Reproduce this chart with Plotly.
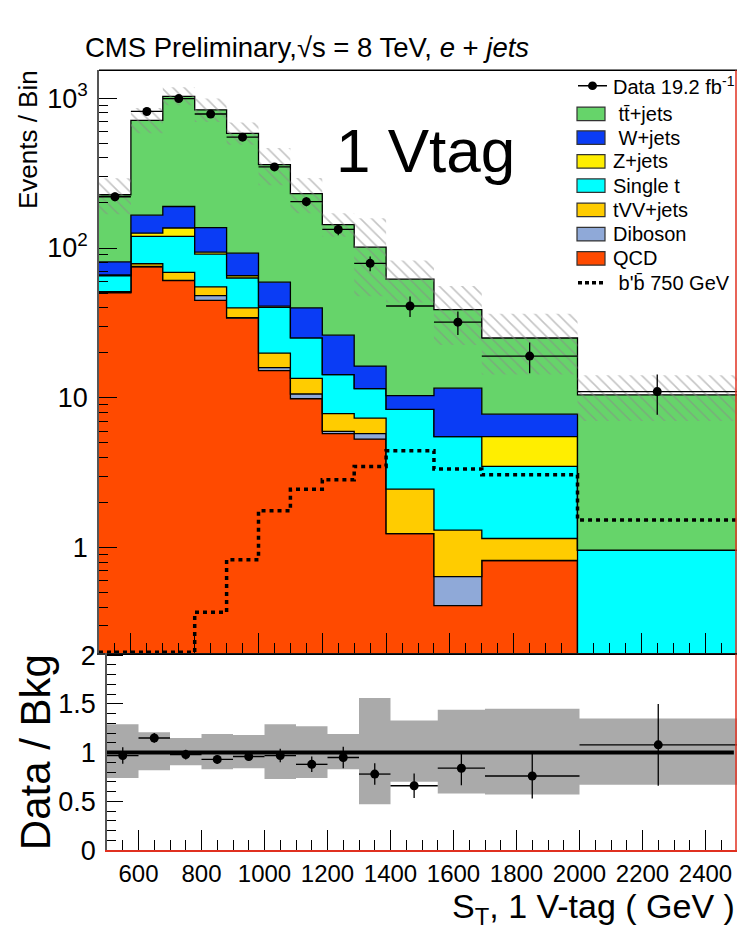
import numpy as np
import plotly.graph_objects as go

W, H = 739, 933
FONT = "Liberation Sans, Arial, Helvetica, sans-serif"

# S_T binning (GeV)
edges = [500, 600, 700, 800, 900, 1000, 1100, 1200, 1300, 1400, 1550, 1700, 2000, 2500]

# background expectations, events per bin (stack order: bottom -> top)
qcd      = [50.3, 75.0, 60.6, 44.7, 34.0, 15.2, 9.86, 5.77, 5.30, 1.24, 0.41, 0.82, 0.0]
diboson  = [0.3, 0.3, 0.3, 3.4, 0.3, 0.7, 0.74, 0.20, 0.47, 0.0, 0.23, 0.0, 0.0]
tvv      = [0.5, 3.2, 7.8, 6.9, 5.5, 4.0, 2.9, 1.88, 1.55, 1.22, 0.67, 0.33, 0.0]
single_t = [14.2, 41.0, 50.8, 36.0, 23.3, 20.3, 11.6, 6.45, 4.18, 5.91, 4.19, 2.33, 0.96]
zjets    = [0.8, 6.1, 16.5, 2.8, 2.2, 0.7, 0.0, 0.0, 0.0, 0.0, 0.0, 2.02, 0.0]
wjets    = [14.8, 40.0, 53.3, 43.2, 27.1, 18.3, 14.7, 11.9, 4.8, 1.98, 6.1, 2.27, 0.0]
ttbar    = [146, 545, 841, 700, 491, 301, 191, 117, 85, 51.6, 27.2, 17.3, 9.5]

# signal: b'b' with m = 750 GeV (first bins sit at the plot floor)
bprime = [0.2, 0.2, 0.2, 0.37, 0.83, 1.76, 2.45, 2.84, 3.48, 4.44, 3.35, 3.06, 1.53]

# observed data
data     = [220, 816, 995, 785, 550, 348, 204, 133, 79, 41, 32, 19, 11]
data_err = [14.8, 28.6, 31.5, 28.0, 23.5, 18.7, 14.3, 11.5, 8.9, 6.4, 5.7, 4.4, 3.3]

# relative background uncertainty band (lower / upper edge)
band_lo = [0.74, 0.82, 0.87, 0.83, 0.84, 0.73, 0.74, 0.83, 0.47, 0.70, 0.58, 0.57, 0.67]
band_hi = [1.29, 1.21, 1.15, 1.19, 1.18, 1.29, 1.27, 1.19, 1.56, 1.33, 1.44, 1.45, 1.35]

# data / background ratio
ratio     = [0.97, 1.15, 0.98, 0.93, 0.96, 0.97, 0.88, 0.95, 0.78, 0.66, 0.84, 0.76, 1.08]
ratio_err = [0.085, 0.05, 0.05, 0.045, 0.04, 0.07, 0.08, 0.11, 0.11, 0.125, 0.175, 0.23, 0.42]

samples = [
    ("QCD", qcd, "#FF4A00"),
    ("Diboson", diboson, "#8FA9D8"),
    ("tVV+jets", tvv, "#FFCC00"),
    ("Single t", single_t, "#00FFFF"),
    ("Z+jets", zjets, "#FFEE00"),
    ("W+jets", wjets, "#0A3CF5"),
    ("t\u0074\u0304+jets", ttbar, "#66D46A"),
]

edges_a = np.array(edges, dtype=float)
centers = (edges_a[:-1] + edges_a[1:]) / 2
half_w = (edges_a[1:] - edges_a[:-1]) / 2
FLOOR = 1e-3


def step(v):
    v = np.asarray(v, dtype=float)
    return np.append(v, v[-1])


def px(x):
    return x / W


def py(y):
    return 1 - y / H


fig = go.Figure()

# ---- stacked backgrounds (main pad) ----
fig.add_trace(go.Scatter(x=edges, y=step(np.full(len(qcd), FLOOR)), mode="lines",
                         line=dict(width=0, shape="hv"), hoverinfo="skip",
                         showlegend=False, xaxis="x", yaxis="y"))
cum = np.zeros(len(qcd))
for name, vals, col in samples:
    cum = cum + np.array(vals, dtype=float)
    fig.add_trace(go.Scatter(x=edges, y=step(np.maximum(cum, FLOOR)), mode="lines", name=name,
                             line=dict(color="black", width=1.3, shape="hv"),
                             fill="tonexty", fillcolor=col, showlegend=False,
                             xaxis="x", yaxis="y"))
total = cum

# ---- uncertainty hatching ----
fig.add_trace(go.Scatter(x=edges, y=step(total * np.array(band_lo)), mode="lines",
                         line=dict(width=0, shape="hv", color="rgba(0,0,0,0)"),
                         showlegend=False, hoverinfo="skip", xaxis="x", yaxis="y"))
fig.add_trace(go.Scatter(x=edges, y=step(total * np.array(band_hi)), mode="lines",
                         line=dict(width=0, shape="hv", color="rgba(0,0,0,0)"),
                         fill="tonexty", fillcolor="rgba(0,0,0,0)",
                         fillpattern=dict(shape="\\", fgcolor="#8a8a8a", bgcolor="rgba(0,0,0,0)",
                                          size=8, solidity=0.2),
                         showlegend=False, hoverinfo="skip", xaxis="x", yaxis="y"))

# ---- signal ----
fig.add_trace(go.Scatter(x=edges, y=step(bprime), mode="lines",
                         line=dict(color="black", width=3.5, shape="hv", dash="4px,4px"),
                         showlegend=False, xaxis="x", yaxis="y"))

# ---- data ----
fig.add_trace(go.Scatter(x=centers, y=data, mode="markers",
                         marker=dict(color="black", size=9),
                         error_x=dict(type="data", array=half_w, color="black", thickness=1.3, width=0),
                         error_y=dict(type="data", array=data_err, color="black", thickness=1.3, width=0),
                         showlegend=False, xaxis="x", yaxis="y"))

# ---- ratio pad ----
fig.add_trace(go.Scatter(x=edges, y=step(band_lo), mode="lines",
                         line=dict(width=0, shape="hv", color="rgba(0,0,0,0)"),
                         showlegend=False, hoverinfo="skip", xaxis="x2", yaxis="y2"))
fig.add_trace(go.Scatter(x=edges, y=step(band_hi), mode="lines",
                         line=dict(width=0, shape="hv", color="rgba(0,0,0,0)"),
                         fill="tonexty", fillcolor="#aaaaaa",
                         showlegend=False, hoverinfo="skip", xaxis="x2", yaxis="y2"))
fig.add_trace(go.Scatter(x=[500, 2490], y=[1, 1], mode="lines",
                         line=dict(color="black", width=4),
                         showlegend=False, xaxis="x2", yaxis="y2"))
fig.add_trace(go.Scatter(x=centers, y=ratio, mode="markers",
                         marker=dict(color="black", size=9),
                         error_x=dict(type="data", array=half_w, color="black", thickness=1.3, width=0),
                         error_y=dict(type="data", array=ratio_err, color="black", thickness=1.3, width=0),
                         showlegend=False, xaxis="x2", yaxis="y2"))

# ---- axes ----
minor_log = [v * 10 ** e for e in (-1, 0, 1, 2, 3) for v in range(2, 10)]
fig.update_layout(
    width=W, height=H, margin=dict(l=0, r=0, t=0, b=0),
    paper_bgcolor="white", plot_bgcolor="white",
    font=dict(family=FONT, color="black"),
    showlegend=False,
    xaxis=dict(domain=[px(99), px(737)], anchor="y", range=[500, 2500],
               showticklabels=False, ticks="inside", ticklen=20, tickwidth=1.2, tickcolor="black",
               tick0=0, dtick=200,
               minor=dict(ticks="inside", ticklen=10, tickwidth=1.2, tickcolor="black", tick0=0, dtick=50),
               showgrid=False, zeroline=False, showline=True, linecolor="#333333", linewidth=1.5),
    yaxis=dict(domain=[py(660), py(59)], anchor="x", type="log", range=[-0.705, 3.187],
               tickvals=[1, 10, 100, 1000], ticktext=["1", "10", "10<sup>2</sup>", "10<sup>3</sup>"],
               ticks="inside", ticklen=18, tickwidth=1.2, tickcolor="black",
               minor=dict(tickvals=minor_log, ticks="inside", ticklen=9, tickwidth=1.2, tickcolor="black"),
               tickfont=dict(size=27), ticklabelstandoff=4,
               showgrid=False, zeroline=False, showline=True, linecolor="#555555", linewidth=1.5),
    xaxis2=dict(domain=[px(107), px(737)], anchor="y2", range=[500, 2500],
                ticks="inside", ticklen=20, tickwidth=1.2, tickcolor="black",
                tick0=0, dtick=200, tickfont=dict(size=24), ticklabelstandoff=1,
                minor=dict(ticks="inside", ticklen=10, tickwidth=1.2, tickcolor="black", tick0=0, dtick=50),
                showgrid=False, zeroline=False, showline=True, linecolor="#e03020", linewidth=1.5),
    yaxis2=dict(domain=[py(863), py(660)], anchor="x2", range=[0, 2.02],
                tick0=0, dtick=0.5, ticks="inside", ticklen=16, tickwidth=1.2, tickcolor="black",
                minor=dict(ticks="inside", ticklen=9, tickwidth=1.2, tickcolor="black", tick0=0, dtick=0.1),
                tickfont=dict(size=27), ticklabelstandoff=4,
                showgrid=False, zeroline=False, showline=True, linecolor="#555555", linewidth=1.5),
)

shapes = []
# pad frames
shapes.append(dict(type="line", xref="paper", yref="paper", x0=px(99), x1=px(737), y0=py(59), y1=py(59),
                   line=dict(color="black", width=1.5)))
shapes.append(dict(type="line", xref="paper", yref="paper", x0=px(736), x1=px(736), y0=py(59), y1=py(660),
                   line=dict(color="#e03020", width=1.5)))
shapes.append(dict(type="line", xref="paper", yref="paper", x0=px(107), x1=px(737), y0=py(661), y1=py(661),
                   line=dict(color="black", width=1.5)))
shapes.append(dict(type="line", xref="paper", yref="paper", x0=px(736), x1=px(736), y0=py(661), y1=py(863),
                   line=dict(color="#e03020", width=1.5)))

# ---- legend ----
annotations = []
leg_font = dict(family=FONT, size=20, color="black")
ly_data = 75
shapes.append(dict(type="line", xref="paper", yref="paper", x0=px(578), x1=px(607),
                   y0=py(ly_data), y1=py(ly_data), line=dict(color="black", width=1.5)))
shapes.append(dict(type="circle", xref="paper", yref="paper", x0=px(588), x1=px(597),
                   y0=py(ly_data + 4.5), y1=py(ly_data - 4.5), fillcolor="black", line=dict(width=0)))
annotations.append(dict(x=px(611), y=py(ly_data), xref="paper", yref="paper", xanchor="left", yanchor="middle",
                        text="Data 19.2 fb<sup>-1</sup>", showarrow=False, font=leg_font))

legend_rows = [
    ("\u00a0t\u0074\u0304+jets", "#66D46A", 104),
    ("\u00a0W+jets", "#0A3CF5", 128.5),
    ("Z+jets", "#FFEE00", 153),
    ("Single t", "#00FFFF", 178),
    ("tVV+jets", "#FFCC00", 203),
    ("Diboson", "#8FA9D8", 228),
    ("QCD", "#FF4A00", 253),
]
for label, col, yc in legend_rows:
    shapes.append(dict(type="rect", xref="paper", yref="paper", x0=px(577), x1=px(605),
                       y0=py(yc + 7), y1=py(yc - 7), fillcolor=col, line=dict(color="#333333", width=1.2)))
    annotations.append(dict(x=px(611), y=py(yc), xref="paper", yref="paper", xanchor="left", yanchor="middle",
                            text=label, showarrow=False, font=leg_font))
ly_sig = 278
shapes.append(dict(type="line", xref="paper", yref="paper", x0=px(578), x1=px(604),
                   y0=py(ly_sig), y1=py(ly_sig), line=dict(color="black", width=3.5, dash="4px,3px")))
annotations.append(dict(x=px(611), y=py(ly_sig), xref="paper", yref="paper", xanchor="left", yanchor="middle",
                        text="\u00a0b'b\u0304 750 GeV", showarrow=False, font=leg_font))

# ---- labels ----
annotations += [
    dict(x=px(83), y=py(36), xref="paper", yref="paper", xanchor="left", yanchor="middle",
         text="CMS Preliminary,\u221as = 8 TeV, <i>e</i> + <i>jets</i>", showarrow=False,
         font=dict(family=FONT, size=27.5)),
    dict(x=px(425), y=py(142), xref="paper", yref="paper", xanchor="center", yanchor="middle",
         text="1 Vtag", showarrow=False, font=dict(family=FONT, size=62)),
    dict(x=px(28), y=py(131), xref="paper", yref="paper", xanchor="center", yanchor="middle",
         text="Events / Bin", textangle=-90, showarrow=False, font=dict(family=FONT, size=26)),
    dict(x=px(35), y=py(762), xref="paper", yref="paper", xanchor="center", yanchor="middle",
         text="Data / Bkg", textangle=-90, showarrow=False, font=dict(family=FONT, size=42)),
    dict(x=px(737), y=py(923), xref="paper", yref="paper", xanchor="right", yanchor="middle",
         text="S<sub>T</sub>, 1 V-tag ( GeV )", showarrow=False, font=dict(family=FONT, size=34)),
]

fig.update_layout(shapes=shapes, annotations=annotations)
fig.write_html("out.html")
